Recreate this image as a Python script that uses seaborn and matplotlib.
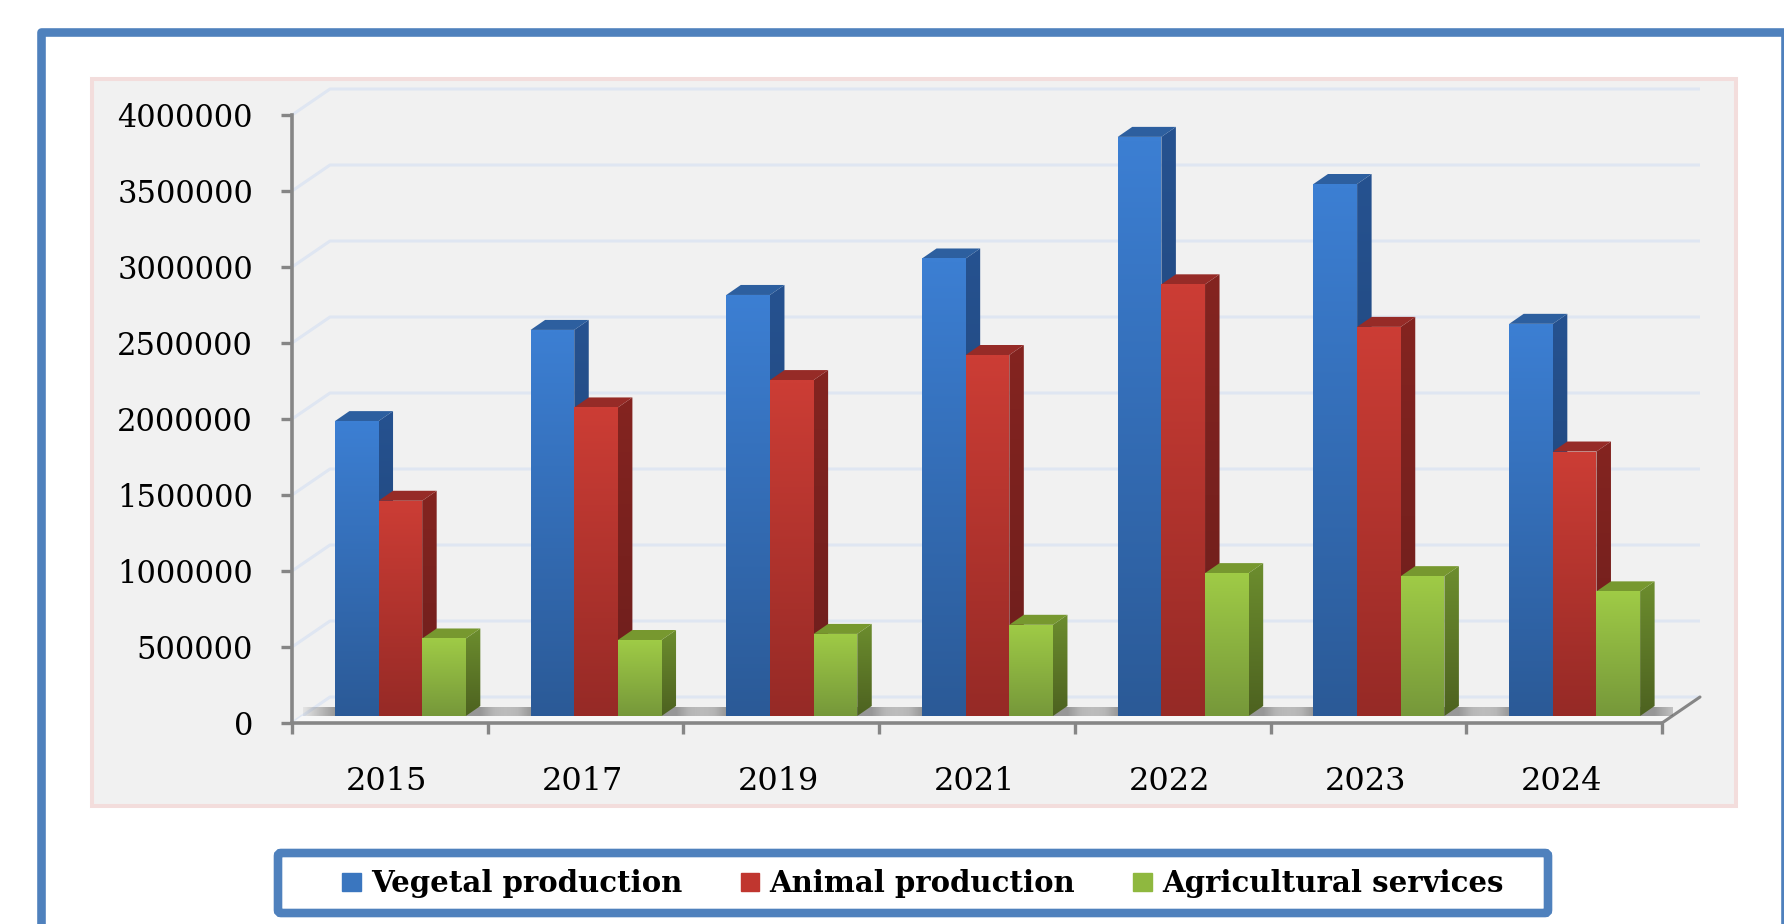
"""3D look grouped bars of agricultural production by year"""

import numpy as np
import pandas as pd
import matplotlib
matplotlib.use("Agg")
import matplotlib.pyplot as plt
from matplotlib.colors import to_rgb
from matplotlib.patches import Patch, Polygon, Rectangle, FancyBboxPatch
import seaborn as sns

years = ["2015", "2017", "2019", "2021", "2022", "2023", "2024"]
vegetal = [1940000, 2540000, 2770000, 3010000, 3810000, 3500000, 2580000]
animal = [1416000, 2030000, 2210000, 2375000, 2840000, 2560000, 1740000]
services = [510000, 500000, 540000, 600000, 940000, 920000, 820000]
series_names = ["Vegetal production", "Animal production", "Agricultural services"]
y_ticks = [0, 500000, 1000000, 1500000, 2000000, 2500000, 3000000, 3500000, 4000000]

# colours per series: front top, front bottom, side top, side bottom, lid
shades = {
    "Vegetal production": ("#3c7fd3", "#2b5a97", "#265290", "#1c3f6e", "#2d5f9f"),
    "Animal production": ("#cc3d35", "#962a26", "#842420", "#6c1e1c", "#962b27"),
    "Agricultural services": ("#9fcb46", "#76983a", "#6c8d2e", "#4d6220", "#77982f"),
}
legend_colors = ["#3a76bf", "#c0362f", "#8fb83f"]

W, H = 1784, 924
FONT = "DejaVu Serif"
GREY = "#868686"
GRID = "#dfe6f2"


def to_fig(left, top, right, bottom):
    return [left / W, 1 - bottom / H, (right - left) / W, (bottom - top) / H]


def gradient_poly(ax, verts, c_top, c_bottom, zorder):
    # vertical gradient clipped to a polygon
    verts = np.array(verts)
    poly = Polygon(verts, closed=True, fc="none", ec="none", transform=ax.transData)
    ax.add_patch(poly)
    ramp = np.linspace(0, 1, 64)[:, None, None]
    img = (1 - ramp) * np.array(to_rgb(c_top)) + ramp * np.array(to_rgb(c_bottom))
    im = ax.imshow(img, extent=[verts[:, 0].min(), verts[:, 0].max(),
                                verts[:, 1].min(), verts[:, 1].max()],
                   aspect="auto", origin="upper", zorder=zorder, interpolation="bilinear")
    im.set_clip_path(poly)


df = pd.DataFrame({"Year": years * 3,
                   "Series": np.repeat(series_names, len(years)),
                   "Value": vegetal + animal + services})

sns.set_theme(style="white")
fig = plt.figure(figsize=(W / 100, H / 100), dpi=100, facecolor="white")

# frames
bg = fig.add_axes([0, 0, 1, 1], zorder=0)
bg.set_xlim(0, W)
bg.set_ylim(H, 0)
bg.axis("off")
bg.add_patch(Rectangle((41, 32), 1744, 960, fc="white", ec="#4f81bd", lw=6.2, joinstyle="round"))
bg.add_patch(Rectangle((92, 79), 1644, 727, fc="#f1f1f1", ec="#f3dddc", lw=2.9))
bg.add_patch(FancyBboxPatch((278, 853), 1270, 60, boxstyle="round,pad=0,rounding_size=3",
                            fc="white", ec="#4f81bd", lw=6.2))

# axes with ticks and back wall
ax = fig.add_axes(to_fig(292, 115, 1662, 723), zorder=1)
ax.patch.set_visible(False)
ax.set_xlim(-0.5, 6.5)
ax.set_ylim(0, 4000000)
px_x = 7 / 1370
px_y = 4000000 / 608
dx_wall, dy_wall = 38 * px_x, 26 * px_y
for v in y_ticks:
    ax.plot([-0.5, -0.5 + dx_wall, 6.5 + dx_wall], [v, v + dy_wall, v + dy_wall],
            color=GRID, lw=2.2, clip_on=False, zorder=1, solid_capstyle="butt")
ax.add_patch(Polygon([(-0.5, 0), (6.5, 0), (6.5 + 10 * px_x, 7 * px_y), (-0.5 + 10 * px_x, 7 * px_y)],
                     fc="#f7f7f7", ec="none", clip_on=False, zorder=1.5))
ax.plot([6.5, 6.5 + dx_wall], [0, dy_wall], color=GREY, lw=2.2, clip_on=False, zorder=2)
ax.set_xticks(np.arange(-0.5, 7), labels=[])
ax.set_yticks(y_ticks, labels=[str(v) for v in y_ticks])
for label in ax.get_yticklabels():
    label.set_family(FONT)
ax.tick_params(axis="y", length=8, width=2.4, color=GREY, pad=20, labelsize=22, labelcolor="black", left=True)
ax.tick_params(axis="x", length=8, width=2.4, color=GREY, bottom=True)
sns.despine(ax=ax)
for side in ["left", "bottom"]:
    ax.spines[side].set_color(GREY)
    ax.spines[side].set_linewidth(2.6)
for i, year in enumerate(years):
    ax.annotate(year, (i, 0), xycoords=ax.get_xaxis_transform(), xytext=(-3, -59), textcoords="offset pixels",
                ha="center", va="center", fontsize=23, family=FONT, color="black")

# bars sit on the floor, a little in front of the wall
bars = fig.add_axes(to_fig(302.5, 108, 1672.5, 716), zorder=2)
bars.patch.set_visible(False)
sns.barplot(data=df, x="Year", y="Value", hue="Series", order=years, hue_order=series_names,
            palette=legend_colors, width=0.669, gap=0, saturation=1, legend=False, ax=bars)
bars.set_xlim(-0.5, 6.5)
bars.set_ylim(0, 4000000)
bars.axis("off")

dx, dy = 14.5 * px_x, 10 * px_y
fade = 38 * px_x
for i in range(len(years)):
    # floor shadow around each group
    group = [c[i] for c in bars.containers]
    left = group[0].get_x()
    right = group[-1].get_x() + group[-1].get_width() + dx
    x0, x1 = left - fade, right + fade
    n = 200
    xs = np.linspace(x0, x1, n)
    alpha = np.clip(np.minimum(xs - x0, x1 - xs) / fade, 0, 1) * 0.62
    rgba = np.zeros((1, n, 4))
    rgba[..., :3] = 0.38
    rgba[0, :, 3] = alpha
    bars.imshow(rgba, extent=[x0, x1, 0, 9 * px_y], aspect="auto", zorder=0.5, interpolation="bilinear")

for z, (name, container) in enumerate(zip(series_names, bars.containers)):
    front_top, front_bottom, side_top, side_bottom, lid = shades[name]
    level = 2 + z
    for patch in container:
        x, w, h = patch.get_x(), patch.get_width(), patch.get_height()
        patch.set_visible(False)
        gradient_poly(bars, [(x + w, 0), (x + w + dx, dy), (x + w + dx, h + dy), (x + w, h)],
                      side_top, side_bottom, level)
        bars.add_patch(Polygon([(x, h), (x + w, h), (x + w + dx, h + dy), (x + dx, h + dy)],
                               fc=lid, ec="none", zorder=level, clip_on=False))
        gradient_poly(bars, [(x, 0), (x + w, 0), (x + w, h), (x, h)], front_top, front_bottom, level + 0.1)
bars.set_xlim(-0.5, 6.5)
bars.set_ylim(0, 4000000)

handles = [Patch(color=c) for c in legend_colors]
fig.legend(handles, series_names, loc="center", bbox_to_anchor=(923 / W, 1 - 884 / H), ncol=3, frameon=False,
           prop={"family": FONT, "size": 21, "weight": "bold"}, handlelength=0.64, handleheight=0.6,
           handletextpad=0.35, columnspacing=2.0, labelcolor="black")

fig.savefig("out.png", dpi=100)
